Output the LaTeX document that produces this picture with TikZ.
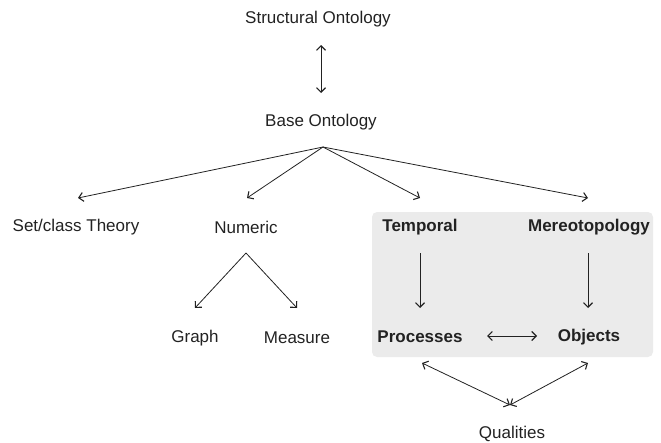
\documentclass[tikz,border=0pt]{standalone}
\usepackage{fontspec}
\setmainfont{Liberation Sans}
\usetikzlibrary{arrows.meta}
\definecolor{boxgray}{HTML}{EBEBEB}
\definecolor{linegray}{HTML}{222222}
\begin{document}
\begin{tikzpicture}[x=1pt,y=-1pt,
  lbl/.style={inner sep=0pt,font=\fontsize{17}{20}\selectfont,text=linegray},
  blbl/.style={lbl,font=\fontsize{17}{20}\selectfont\bfseries},
  con/.style={draw=linegray,line width=0.8pt,-{Straight Barb[length=4.5pt,width=9pt,line width=1.1pt]}},
  bicon/.style={draw=linegray,line width=0.8pt,{Straight Barb[length=4.5pt,width=9pt,line width=1.1pt]}-{Straight Barb[length=4.5pt,width=9pt,line width=1.1pt]}}]
\useasboundingbox (0,0) rectangle (661,442);
\fill[boxgray,rounded corners=5pt] (372,212) rectangle (653,357);
\node[lbl] (struct) at (318,19) {Structural Ontology};
\node[lbl] (base) at (321,122) {Base Ontology};
\node[lbl] (set) at (76,227) {Set/class Theory};
\node[lbl] (num) at (246,227) {Numeric};
\node[blbl] (temp) at (420,227) {Temporal};
\node[blbl] (mereo) at (589,227) {Mereotopology};
\node[lbl] (graph) at (195,338) {Graph};
\node[lbl] (meas) at (297,338) {Measure};
\node[blbl] (proc) at (420,337) {Processes};
\node[blbl] (obj) at (589,337) {Objects};
\node[lbl] (qual) at (512,434) {Qualities};
\coordinate (sTop) at (321,45);
\coordinate (sBot) at (321,93);
\coordinate (bApex) at (323,147);
\coordinate (tSet) at (78,198);
\coordinate (tNum) at (247,198);
\coordinate (tTemp) at (420,198);
\coordinate (tMereo) at (588,198);
\coordinate (nApex) at (246,253);
\coordinate (tGraph) at (195,308);
\coordinate (tMeas) at (297,308);
\coordinate (tempA) at (420,253);
\coordinate (tempB) at (420,308);
\coordinate (merA) at (588,253);
\coordinate (merB) at (588,308);
\coordinate (pR) at (487,336);
\coordinate (oL) at (537,336);
\coordinate (pQ) at (422,363);
\coordinate (oQ) at (588,363);
\coordinate (qTop) at (510,405);
\draw[bicon] (sTop) -- (sBot);
\draw[con] (bApex) -- (tSet);
\draw[con] (bApex) -- (tNum);
\draw[con] (bApex) -- (tTemp);
\draw[con] (bApex) -- (tMereo);
\draw[con] (nApex) -- (tGraph);
\draw[con] (nApex) -- (tMeas);
\draw[con] (tempA) -- (tempB);
\draw[con] (merA) -- (merB);
\draw[bicon] (pR) -- (oL);
\draw[bicon] (pQ) -- (qTop);
\draw[bicon] (oQ) -- (qTop);
\end{tikzpicture}
\end{document}
